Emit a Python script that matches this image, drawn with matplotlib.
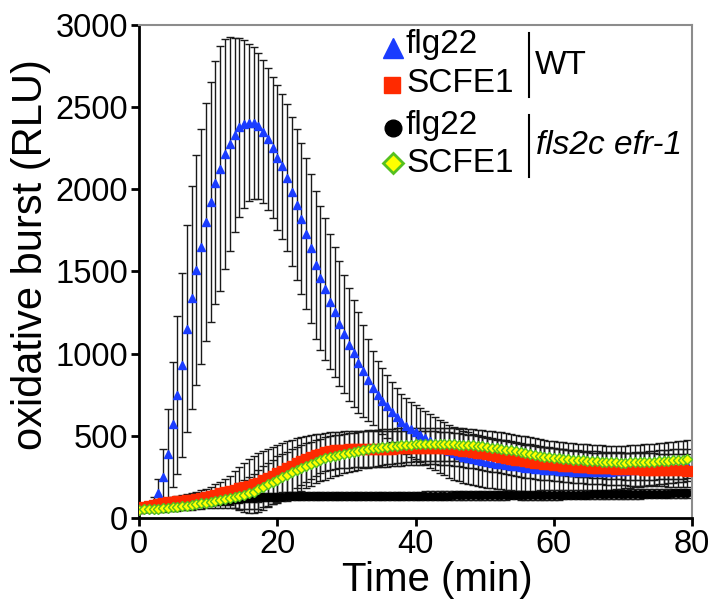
import numpy as np
import matplotlib
matplotlib.use("Agg")
import matplotlib.pyplot as plt

plt.rcParams['font.family'] = ['Liberation Sans', 'DejaVu Sans']

# one reading every ~41 s (0.69 min)
interval_min = 0.69

# WT, flg22 (blue triangles)
wt_flg22 = [55, 60, 68, 90, 150, 250, 390, 570, 750, 930,
            1150, 1340, 1510, 1650, 1800, 1920, 2040, 2125, 2215, 2275,
            2330, 2375, 2395, 2405, 2402, 2385, 2348, 2305, 2252, 2192,
            2138, 2070, 1985, 1905, 1820, 1730, 1640, 1540, 1460, 1392,
            1315, 1255, 1180, 1120, 1055, 1002, 945, 895, 838, 790,
            745, 710, 680, 645, 612, 585, 560, 540, 522, 505,
            488, 470, 452, 436, 420, 405, 393, 382, 372, 364,
            356, 350, 344, 339, 334, 330, 326, 322, 318, 314,
            310, 306, 303, 300, 297, 294, 291, 289, 287, 285,
            283, 281, 280, 279, 278, 278, 278, 279, 280, 282,
            284, 286, 288, 290, 293, 296, 299, 302, 305, 308,
            311, 314, 316, 318, 320, 322]
wt_flg22_err = [20, 22, 25, 40, 90, 170, 270, 380, 480, 560,
                630, 680, 700, 715, 725, 730, 740, 745, 700, 650,
                590, 545, 510, 480, 460, 445, 435, 432, 430, 440,
                440, 445, 455, 460, 460, 460, 455, 450, 440, 430,
                410, 395, 380, 360, 345, 325, 305, 280, 250, 225,
                210, 200, 192, 185, 178, 172, 170, 168, 166, 165,
                164, 163, 162, 162, 161, 160, 160, 159, 158, 158,
                157, 156, 155, 154, 153, 152, 151, 150, 149, 148,
                147, 146, 145, 144, 142, 140, 138, 136, 134, 132,
                130, 128, 126, 124, 122, 120, 118, 116, 114, 112,
                110, 109, 108, 107, 106, 105, 104, 104, 103, 103,
                102, 102, 101, 101, 100, 100]

# WT, SCFE1 (red squares)
wt_scfe1 = [60, 66, 73, 80, 85, 90, 95, 99, 103, 106,
            109, 112, 117, 122, 128, 134, 142, 150, 158, 166,
            173, 180, 187, 195, 204, 214, 228, 242, 257, 272,
            288, 303, 318, 334, 347, 360, 372, 383, 392, 401,
            407, 411, 414, 416, 417, 418, 418, 418, 418, 419,
            419, 420, 421, 422, 423, 424, 425, 426, 427, 427,
            428, 428, 427, 425, 423, 421, 418, 414, 410, 406,
            402, 398, 393, 388, 382, 377, 372, 366, 360, 355,
            350, 345, 341, 337, 334, 331, 328, 325, 322, 319,
            316, 314, 312, 310, 308, 306, 305, 304, 303, 302,
            300, 299, 298, 297, 296, 295, 294, 293, 293, 292,
            292, 291, 290, 290, 289, 288]
wt_scfe1_err = [20, 21, 22, 23, 24, 25, 26, 28, 30, 32,
                35, 38, 42, 46, 50, 55, 62, 70, 78, 90,
                110, 130, 150, 165, 175, 180, 180, 178, 175, 172,
                168, 164, 158, 152, 146, 140, 133, 126, 120, 116,
                113, 111, 110, 110, 110, 110, 110, 110, 110, 110,
                110, 110, 109, 108, 107, 106, 105, 104, 103, 102,
                101, 100, 100, 100, 100, 100, 100, 100, 100, 100,
                100, 100, 100, 100, 100, 100, 100, 100, 100, 100,
                100, 100, 100, 100, 100, 100, 100, 100, 100, 100,
                100, 100, 100, 100, 100, 100, 100, 100, 100, 100,
                100, 100, 100, 100, 100, 100, 100, 100, 100, 100,
                100, 100, 100, 100, 100, 100]

# fls2c efr-1, flg22 (black circles)
mut_flg22 = [55, 57, 60, 63, 66, 68, 71, 74, 78, 81,
             84, 87, 90, 94, 97, 100, 103, 106, 109, 112,
             115, 117, 120, 122, 124, 125, 126, 127, 128, 129,
             130, 131, 132, 132, 133, 133, 134, 134, 134, 135,
             135, 135, 135, 135, 135, 135, 135, 135, 135, 135,
             135, 135, 135, 135, 136, 136, 136, 136, 136, 136,
             136, 136, 136, 136, 136, 136, 137, 137, 137, 137,
             137, 137, 137, 138, 138, 138, 138, 138, 139, 139,
             139, 139, 139, 139, 140, 140, 140, 140, 140, 141,
             141, 141, 142, 142, 142, 143, 143, 143, 144, 144,
             145, 145, 145, 146, 146, 146, 147, 147, 147, 148,
             148, 148, 149, 149, 150, 150]
mut_flg22_err = [15, 15, 16, 16, 17, 17, 18, 18, 19, 19,
                 20, 20, 21, 21, 22, 22, 23, 23, 24, 24,
                 25, 25, 25, 25, 25, 25, 25, 25, 25, 25,
                 25, 25, 25, 25, 25, 25, 25, 25, 25, 25,
                 25, 25, 25, 25, 25, 25, 25, 25, 25, 25,
                 25, 25, 25, 25, 25, 25, 25, 25, 25, 25,
                 26, 26, 26, 26, 26, 26, 26, 26, 26, 26,
                 26, 26, 26, 26, 26, 26, 26, 26, 26, 26,
                 28, 28, 28, 28, 28, 28, 28, 28, 28, 28,
                 28, 28, 28, 28, 28, 28, 28, 28, 28, 28,
                 28, 28, 28, 28, 28, 28, 28, 28, 28, 28,
                 28, 28, 28, 28, 28, 28]

# fls2c efr-1, SCFE1 (yellow/green diamonds)
mut_scfe1 = [50, 52, 54, 56, 57, 59, 62, 65, 68, 71,
             75, 79, 84, 89, 94, 99, 103, 109, 115, 121,
             127, 134, 142, 150, 161, 174, 189, 204, 219, 234,
             249, 263, 277, 292, 305, 318, 330, 343, 353, 362,
             371, 379, 385, 391, 396, 401, 408, 415, 420, 424,
             428, 431, 434, 436, 439, 441, 443, 445, 447, 448,
             448, 449, 449, 449, 449, 448, 448, 446, 445, 443,
             441, 438, 435, 432, 428, 424, 420, 416, 411, 406,
             401, 396, 390, 384, 378, 373, 369, 366, 363, 360,
             357, 355, 352, 350, 348, 346, 344, 342, 340, 339,
             338, 337, 337, 338, 339, 340, 341, 342, 343, 345,
             347, 349, 351, 353, 355, 357]
mut_scfe1_err = [18, 18, 19, 19, 20, 20, 21, 22, 23, 24,
                 26, 28, 30, 33, 36, 40, 44, 49, 54, 60,
                 68, 78, 88, 98, 108, 118, 125, 131, 136, 140,
                 141, 141, 141, 140, 139, 137, 135, 133, 130, 128,
                 126, 124, 122, 120, 118, 117, 116, 114, 113, 112,
                 110, 109, 108, 107, 106, 105, 104, 103, 102, 101,
                 100, 100, 100, 100, 100, 100, 100, 100, 100, 100,
                 100, 100, 100, 100, 100, 100, 100, 100, 100, 100,
                 100, 100, 100, 100, 100, 100, 100, 100, 100, 100,
                 100, 100, 100, 100, 100, 100, 100, 100, 100, 100,
                 101, 102, 103, 104, 105, 106, 107, 108, 109, 110,
                 111, 112, 113, 114, 115, 115]

t = np.arange(len(wt_flg22)) * interval_min

blue = '#1a3cff'
red = '#ff2a00'

fig = plt.figure(figsize=(7.14, 6.03), dpi=100)
ax = fig.add_axes([0.195, 0.141, 0.774, 0.818])

# error bars behind all markers
for m, e in [(mut_flg22, mut_flg22_err), (wt_flg22, wt_flg22_err),
             (wt_scfe1, wt_scfe1_err), (mut_scfe1, mut_scfe1_err)]:
    ax.errorbar(t, m, yerr=e, fmt='none', ecolor='#1a1a1a',
                elinewidth=1, capsize=3, capthick=1, zorder=1)

ax.plot(t, mut_flg22, ls='none', marker='o', ms=5.5, color='black', zorder=2)
ax.plot(t, wt_flg22, ls='none', marker='^', ms=6, color=blue, zorder=3)
ax.plot(t, wt_scfe1, ls='none', marker='s', ms=7.5, color=red, zorder=4)
ax.plot(t, mut_scfe1, ls='none', marker='D', ms=5, mfc='#ffff00',
        mec='#55c020', mew=1, zorder=5)

ax.set_xlim(0, 80)
ax.set_ylim(0, 3000)
ax.set_xticks([0, 20, 40, 60, 80])
ax.set_yticks([0, 500, 1000, 1500, 2000, 2500, 3000])
ax.tick_params(direction='out', length=6, width=2, labelsize=23.5, pad=2)
for s in ['left', 'bottom']:
    ax.spines[s].set_linewidth(2)
for s in ['top', 'right']:
    ax.spines[s].set_linewidth(1.5)
    ax.spines[s].set_color('#8c8c8c')
ax.set_xlabel('Time (min)', fontsize=29)
ax.set_ylabel('oxidative burst (RLU)', fontsize=30)
ax.xaxis.set_label_coords(0.539, -0.088)
ax.yaxis.set_label_coords(-0.16, 0.535)

# legend drawn by hand (grouped by genotype)
def fx(px):
    return px / 714

def fy(py):
    return 1 - py / 603

fig.lines.append(plt.Line2D([fx(393)], [fy(48)], marker='^', ms=14, color=blue, transform=fig.transFigure))
fig.lines.append(plt.Line2D([fx(392)], [fy(85)], marker='s', ms=12, color=red, transform=fig.transFigure))
fig.lines.append(plt.Line2D([fx(393)], [fy(128)], marker='o', ms=12, color='black', transform=fig.transFigure))
fig.lines.append(plt.Line2D([fx(393)], [fy(163)], marker='D', ms=10, mfc='#ffff00', mec='#55c020',
                            mew=2, transform=fig.transFigure))
for py, label in [(45, 'flg22'), (83, 'SCFE1'), (125, 'flg22'), (163, 'SCFE1')]:
    fig.text(fx(406), fy(py), label, fontsize=24, va='center', ha='left')
fig.lines.append(plt.Line2D([fx(529), fx(529)], [fy(33), fy(97)], color='black', lw=1.5,
                            transform=fig.transFigure))
fig.lines.append(plt.Line2D([fx(529), fx(529)], [fy(115), fy(177)], color='black', lw=1.5,
                            transform=fig.transFigure))
fig.text(fx(535), fy(66), 'WT', fontsize=24, va='center', ha='left')
fig.text(fx(536), fy(146), 'fls2c efr-1', fontsize=24, va='center', ha='left', style='italic')

fig.savefig('out.png', dpi=100)
